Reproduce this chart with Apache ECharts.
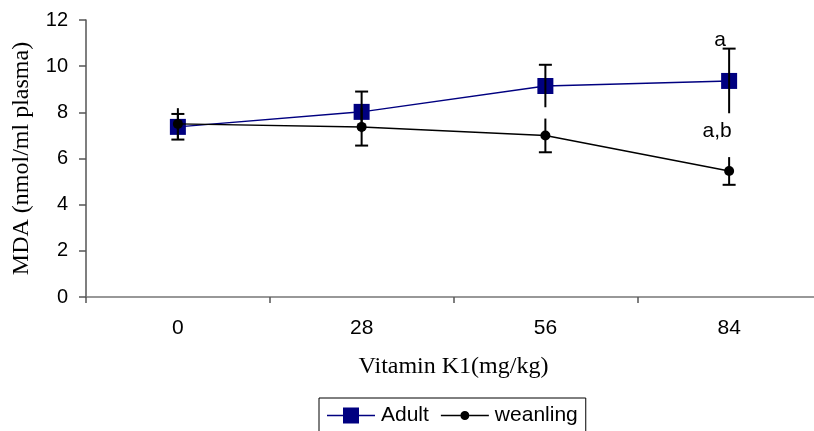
<!DOCTYPE html>
<html>
<head>
<meta charset="utf-8">
<script src="https://cdn.jsdelivr.net/npm/echarts@6/dist/echarts.min.js"></script>
<style>html,body{margin:0;padding:0;background:#fff;}#chart{width:814px;height:431px;}</style>
</head>
<body>
<div id="chart"></div>
<script>
const categories = ['0', '28', '56', '84'];
const adult = [7.37, 8.02, 9.14, 9.36];
const adultErr = [0.56, 0.88, 0.92, 1.4];
const weanling = [7.5, 7.37, 7.0, 5.46];
const weanlingErr = [0.68, 0.81, 0.73, 0.6];
const adultNotes = ['', '', '', 'a'];
const weanlingNotes = ['', '', '', 'a,b'];
const yTicks = [0, 2, 4, 6, 8, 10, 12];

const SANS = '"Liberation Sans", Arial, sans-serif';
const SERIF = '"Liberation Serif", "Times New Roman", serif';
const NAVY = '#000080';

function errData(vals, errs) {
  return vals.map((v, i) => [i, v - errs[i], v + errs[i]]);
}
function errRender(capTop) {
  return function (params, api) {
    const x = api.value(0);
    const lo = api.coord([x, api.value(1)]);
    const hi = api.coord([x, api.value(2)]);
    const hw = 6.5;
    const style = { stroke: '#000', lineWidth: 2 };
    const capY = capTop ? hi[1] : lo[1];
    return {
      type: 'group',
      children: [
        { type: 'line', shape: { x1: lo[0], y1: lo[1], x2: hi[0], y2: hi[1] }, style: style },
        { type: 'line', shape: { x1: lo[0] - hw, y1: capY, x2: lo[0] + hw, y2: capY }, style: style }
      ]
    };
  };
}
function withNotes(vals, notes, offset) {
  return vals.map((v, i) => notes[i] ? {
    value: v,
    label: { show: true, formatter: notes[i], position: 'inside', offset: offset,
      fontFamily: SANS, fontSize: 21, color: '#000' }
  } : v);
}

const chart = echarts.init(document.getElementById('chart'), null, { renderer: 'canvas' });
chart.setOption({
  animation: false,
  backgroundColor: '#fff',
  grid: { left: 86, top: 20, width: 735, height: 277, containLabel: false, outerBoundsMode: 'none' },
  legend: {
    data: [
      { name: 'Adult', icon: 'path://M0,7.25h16v1.5h-16z M16,0h16v16h-16z M32,7.25h16v1.5h-16z' },
      { name: 'weanling', icon: 'path://M0,0L0,0 M48,16L48,16 M0,7.25h19.5v1.5h-19.5z M28.5,7.25h19.5v1.5h-19.5z M19.5,8a4.5,4.5 0 1,0 9,0a4.5,4.5 0 1,0 -9,0z' }
    ],
    left: 319, top: 398,
    itemWidth: 48, itemHeight: 16, itemGap: 12,
    padding: [7, 8, 12, 8],
    borderColor: '#000', borderWidth: 1,
    textStyle: { fontFamily: SANS, fontSize: 21, color: '#000', padding: [0, 0, 0, 1] }
  },
  xAxis: {
    type: 'category',
    data: categories,
    boundaryGap: true,
    name: 'Vitamin K1(mg/kg)',
    nameLocation: 'middle',
    nameGap: 58,
    nameTextStyle: { fontFamily: SERIF, fontSize: 24, color: '#000' },
    axisLine: { lineStyle: { color: '#777', width: 1.5 } },
    axisTick: { show: true, interval: 0, length: 6, lineStyle: { color: '#555', width: 1.5 } },
    axisLabel: { margin: 21, fontFamily: SANS, fontSize: 21, color: '#000' },
    splitLine: { show: false }
  },
  yAxis: {
    type: 'value',
    min: yTicks[0], max: yTicks[yTicks.length - 1], interval: 2,
    name: 'MDA (nmol/ml plasma)',
    nameLocation: 'middle',
    nameGap: 52,
    nameRotate: 90,
    nameTextStyle: { fontFamily: SERIF, fontSize: 24, color: '#000' },
    axisLine: { show: true, lineStyle: { color: '#555', width: 1.5 } },
    axisTick: { show: true, length: 7, lineStyle: { color: '#555', width: 1.5 } },
    axisLabel: { margin: 18, fontFamily: SANS, fontSize: 20, color: '#000' },
    splitLine: { show: false }
  },
  series: [
    {
      name: 'Adult', type: 'line', data: withNotes(adult, adultNotes, [-9, -41]),
      symbol: 'rect', symbolSize: 16,
      itemStyle: { color: NAVY },
      lineStyle: { color: NAVY, width: 1.5 },
      z: 2
    },
    {
      name: 'weanling', type: 'line', data: withNotes(weanling, weanlingNotes, [-12, -40]),
      symbol: 'circle', symbolSize: 10,
      itemStyle: { color: '#000' },
      lineStyle: { color: '#000', width: 1.5 },
      z: 3
    },
    {
      name: 'AdultErr', type: 'custom', data: errData(adult, adultErr),
      renderItem: errRender(true), z: 4, silent: true
    },
    {
      name: 'weanlingErr', type: 'custom', data: errData(weanling, weanlingErr),
      renderItem: errRender(false), z: 4, silent: true
    }
  ]
});
</script>
</body>
</html>
